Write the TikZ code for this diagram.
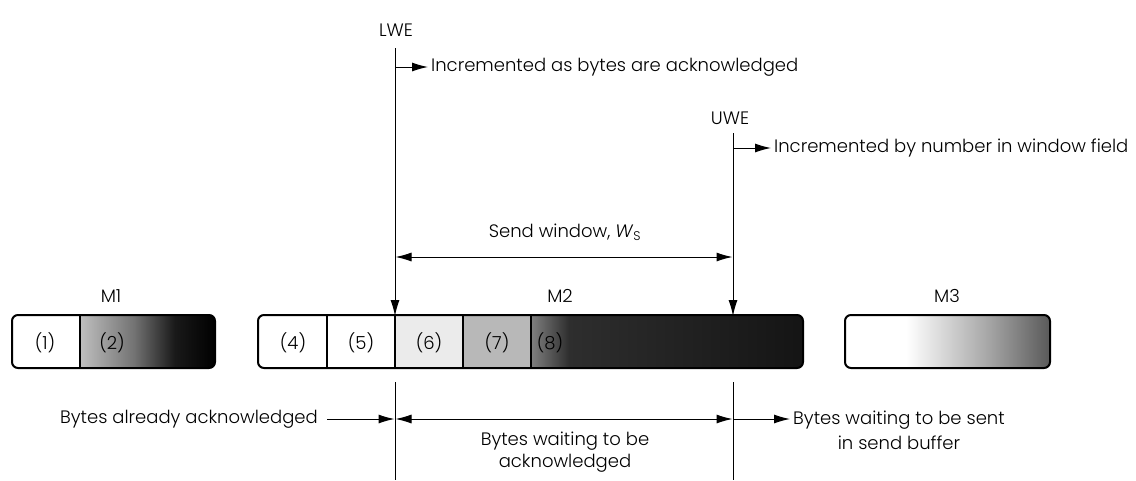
\documentclass[tikz,border=0pt]{standalone}
\usepackage{fontspec}
\setmainfont{Poppins Light}
\usetikzlibrary{arrows.meta}
\pgfdeclarehorizontalshading{shA}{100bp}{color(0bp)=(black!25); color(25bp)=(black!25); color(45bp)=(black!55); color(60bp)=(black!90); color(75bp)=(black); color(100bp)=(black)}
\pgfdeclarehorizontalshading{shB}{100bp}{color(0bp)=(black!50); color(25bp)=(black!50); color(32bp)=(black!82); color(75bp)=(black!92); color(100bp)=(black!92)}
\pgfdeclarehorizontalshading{shC}{100bp}{color(0bp)=(white); color(25bp)=(white); color(40bp)=(white); color(60bp)=(black!35); color(75bp)=(black!65); color(100bp)=(black!65)}
\begin{document}
\begin{tikzpicture}[x=1pt,y=-1pt,
  font=\fontsize{18}{22}\selectfont,
  tip/.style={-{Latex[length=16pt,width=9pt]}},
  dtip/.style={{Latex[length=16pt,width=9pt]}-{Latex[length=16pt,width=9pt]}},
  ln/.style={line width=1pt},
  frame/.style={draw, line width=2pt, rounded corners=6pt},
  div/.style={line width=1.2pt},
  txt/.style={inner sep=3pt}]
\useasboundingbox (0,0) rectangle (1136,480);
% ---------- M1 ----------
\begin{scope}
  \clip[rounded corners=6pt] (12,315) rectangle (215,368);
  \fill[white] (12,315) rectangle (80,368);
  \shade[shading=shA] (80,315) rectangle (215,368);
\end{scope}
\draw[frame] (12,315) rectangle (215,368);
\draw[div] (80,315) -- (80,368);
\node[txt] (c1) at (45,343) {(1)};
\node[txt] (c2) at (112,343) {(2)};
\node[txt] (m1) at (111,296) {M1};
% ---------- M2 ----------
\begin{scope}
  \clip[rounded corners=6pt] (258,315) rectangle (803,368);
  \fill[white] (258,315) rectangle (395,368);
  \fill[black!8] (395,315) rectangle (463,368);
  \fill[black!28] (463,315) rectangle (531,368);
  \shade[shading=shB] (531,315) rectangle (803,368);
\end{scope}
\draw[frame] (258,315) rectangle (803,368);
\foreach \xx in {327,395,463,531} \draw[div] (\xx,315) -- (\xx,368);
\node[txt] (c4) at (293,343) {(4)};
\node[txt] (c5) at (361,343) {(5)};
\node[txt] (c6) at (429,343) {(6)};
\node[txt] (c7) at (497,343) {(7)};
\node[txt] (c8) at (550,343) {(8)};
\node[txt] (m2) at (560,296) {M2};
% ---------- M3 ----------
\begin{scope}
  \clip[rounded corners=6pt] (845,315) rectangle (1050,368);
  \shade[shading=shC] (845,315) rectangle (1050,368);
\end{scope}
\draw[frame] (845,315) rectangle (1050,368);
\node[txt] (m3) at (947,296) {M3};
% ---------- LWE ----------
\node[txt] (lwe) at (396,30) {LWE};
\coordinate (lweT) at (395,48);
\coordinate (lweB) at (395,316);
\coordinate (lweA) at (395,67);
\draw[ln,tip] (lweT) -- (lweB);
\node[txt,anchor=west] (inc1) at (428,67) {Incremented as bytes are acknowledged};
\draw[ln,tip] (lweA) -- (inc1.west);
% ---------- UWE ----------
\node[txt] (uwe) at (730,118) {UWE};
\coordinate (uweT) at (733,133);
\coordinate (uweB) at (733,316);
\coordinate (uweA) at (733,148);
\draw[ln,tip] (uweT) -- (uweB);
\node[txt,anchor=west] (inc2) at (771,148) {Incremented by number in window field};
\draw[ln,tip] (uweA) -- (inc2.west);
% ---------- send window ----------
\node[txt] (sw) at (565,232) {Send window, \textit{W}\textsubscript{S}};
\coordinate (swL) at (395.5,257);
\coordinate (swR) at (732.5,257);
\draw[ln,dtip] (swL) -- (swR);
% ---------- bottom ----------
\coordinate (lweL) at (395,382);
\coordinate (lweE) at (395,480);
\coordinate (uweL) at (733,382);
\coordinate (uweE) at (733,480);
\draw[ln] (lweL) -- (lweE);
\draw[ln] (uweL) -- (uweE);
\node[txt,anchor=east] (b1) at (321,419) {Bytes already acknowledged};
\coordinate (b1T) at (394.5,419);
\draw[ln,tip] ([xshift=6pt]b1.east) -- (b1T);
\coordinate (b2L) at (395.5,419);
\coordinate (b2R) at (732.5,419);
\draw[ln,dtip] (b2L) -- (b2R);
\node[txt,align=center] (b2) at (565,452) {Bytes waiting to be\\acknowledged};
\coordinate (b3S) at (733.5,419);
\node[txt,align=center,anchor=west] (b3) at (790,430) {Bytes waiting to be sent\\[3pt]in send buffer};
\draw[ln,tip] (b3S) -- (b3.west |- b3S);
\end{tikzpicture}
\end{document}
